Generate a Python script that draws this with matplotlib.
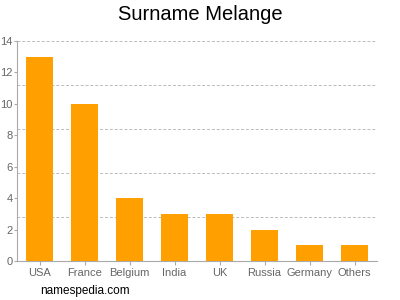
import matplotlib
matplotlib.use('Agg')
import matplotlib.pyplot as plt
import numpy as np

plt.rcParams['font.family'] = ['Liberation Sans', 'DejaVu Sans']

countries = ['USA', 'France', 'Belgium', 'India', 'UK', 'Russia', 'Germany', 'Others']
counts = [13, 10, 4, 3, 3, 2, 1, 1]
yticks = [0, 2, 4, 6, 8, 10, 12, 14]

fig = plt.figure(figsize=(4, 3), dpi=100)
ax = fig.add_axes([0.0425, 0.13, 0.9, 0.7333])

x = np.arange(len(countries))
ax.bar(x, counts, width=0.62, color='#ffa000', zorder=3)

# grid lines split the range into 5 equal parts
for g in np.linspace(0, 14, 6)[1:]:
    ax.axhline(g, color='#bbbbbb', linestyle=(0, (3, 2)), linewidth=0.7, zorder=1)

ax.set_xlim(-0.5, len(countries) - 0.5)
ax.set_ylim(0, 14)
ax.set_xticks(x)
ax.set_xticklabels(countries)
ax.set_yticks(yticks)

for side in ['top', 'right']:
    ax.spines[side].set_visible(False)
for side in ['left', 'bottom']:
    ax.spines[side].set_color('#aaaaaa')
    ax.spines[side].set_linewidth(0.8)

ax.tick_params(axis='x', colors='#aaaaaa', labelcolor='#666666', labelsize=8,
               length=3, width=0.8, pad=2)
ax.tick_params(axis='y', colors='#aaaaaa', labelcolor='#666666', labelsize=8,
               length=2, width=0.8, pad=1)

fig.text(0.5, 0.95, 'Surname Melange', ha='center', va='center', fontsize=14.5)
fig.text(0.1, 0.03, 'namespedia.com', ha='left', va='center', fontsize=8.5)

plt.savefig('out.png', dpi=100)
plt.close()
